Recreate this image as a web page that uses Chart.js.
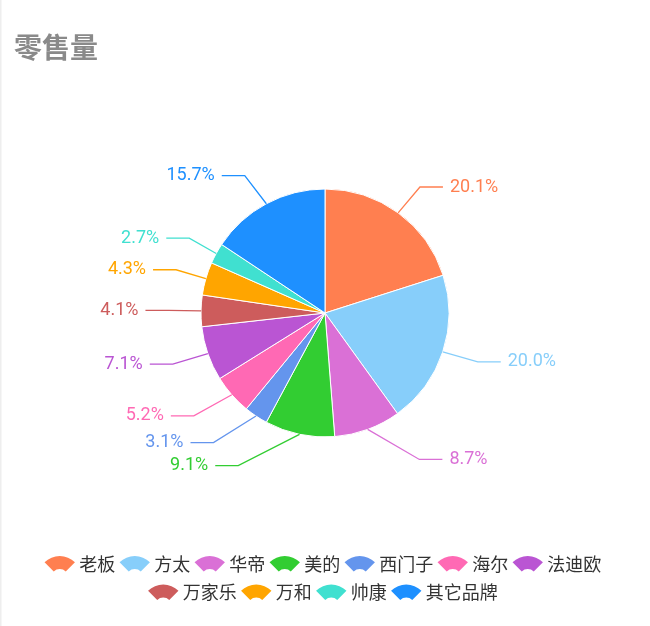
<!DOCTYPE html>
<html><head><meta charset="utf-8">
<script src="https://cdn.jsdelivr.net/npm/chart.js@4.4.1/dist/chart.umd.min.js"></script>
<style>html,body{margin:0;padding:0;background:#fff;} #wrap{width:650px;height:626px;position:relative;}</style>
</head><body><div id="wrap"><canvas id="c"></canvas></div>
<script>
const titleText = '零售量';
const categories = ['老板','方太','华帝','美的','西门子','海尔','法迪欧','万家乐','万和','帅康','其它品牌'];
const shares = [20.1, 20.0, 8.7, 9.1, 3.1, 5.2, 7.1, 4.1, 4.3, 2.7, 15.7];
const colors = ['#ff7f50','#87cefa','#da70d6','#32cd32','#6495ed','#ff69b4','#ba55d3','#cd5c5c','#ffa500','#40e0d0','#1e90ff'];
const legendRows = [7, 4];

const CJK = '"Noto Sans CJK SC", "Noto Sans", sans-serif';

const decorPlugin = {
  id: 'decor',
  afterDatasetsDraw(chart) {
    const ctx = chart.ctx;
    const meta = chart.getDatasetMeta(0);
    const L1 = 32, L2 = 23, RL = 180, K = 10, GAP = 7;
    ctx.save();
    ctx.font = '18px Roboto';
    ctx.textBaseline = 'middle';
    meta.data.forEach((arc, i) => {
      const p = arc.getProps(['x','y','startAngle','endAngle','outerRadius'], true);
      const mid = (p.startAngle + p.endAngle) / 2;
      const ux = Math.cos(mid), uy = Math.sin(mid);
      const dir = ux >= 0 ? 1 : -1;
      const x1 = p.x + p.outerRadius * ux, y1 = p.y + p.outerRadius * uy;
      const y2 = p.y + (p.outerRadius + L1) * uy;
      const dyc = y2 - p.y - K;
      const x3 = p.x + dir * Math.sqrt(Math.max(RL * RL - dyc * dyc, 0));
      const x2 = x3 - dir * L2;
      ctx.strokeStyle = colors[i];
      ctx.lineWidth = 1.3;
      ctx.beginPath();
      ctx.moveTo(x1, y1); ctx.lineTo(x2, y2); ctx.lineTo(x3, y2);
      ctx.stroke();
      ctx.fillStyle = colors[i];
      ctx.textAlign = dir > 0 ? 'left' : 'right';
      ctx.fillText(shares[i].toFixed(1) + '%', x3 + dir * GAP, y2);
    });
    ctx.restore();
  },
  afterDraw(chart) {
    const ctx = chart.ctx;
    ctx.save();
    // faint left edge
    ctx.fillStyle = '#eeeeee';
    ctx.fillRect(0, 0, 1.5, chart.height);
    // title
    ctx.font = 'bold 28px ' + CJK;
    ctx.fillStyle = '#8a8a8a';
    ctx.textBaseline = 'middle';
    ctx.textAlign = 'left';
    ctx.fillText(titleText, 14, 47);
    // legend
    const ICON_W = 30, ICON_TXT = 4.5, ITEM_GAP = 4.5;
    const rowY = [564, 592.5];
    const centerX = 323;
    ctx.font = '18px ' + CJK;
    let idx = 0;
    legendRows.forEach((n, r) => {
      const items = [];
      for (let k = 0; k < n; k++, idx++) {
        const w = ICON_W + ICON_TXT + ctx.measureText(categories[idx]).width;
        items.push({i: idx, w});
      }
      const total = items.reduce((s, it) => s + it.w, 0) + ITEM_GAP * (n - 1);
      let x = centerX - total / 2;
      const cyT = rowY[r];
      items.forEach(it => {
        const icx = x + ICON_W / 2;
        const top = cyT - 8;
        const R = 21.5, r0 = 8.5, a = Math.PI / 4;
        const acy = top + R;
        ctx.fillStyle = colors[it.i];
        ctx.beginPath();
        ctx.arc(icx, acy, R, -Math.PI / 2 - a, -Math.PI / 2 + a);
        ctx.arc(icx, acy, r0, -Math.PI / 2 + a, -Math.PI / 2 - a, true);
        ctx.closePath();
        ctx.fill();
        ctx.fillStyle = '#333333';
        ctx.textAlign = 'left';
        ctx.textBaseline = 'middle';
        ctx.fillText(categories[it.i], x + ICON_W + ICON_TXT, cyT);
        x += it.w + ITEM_GAP;
      });
    });
    ctx.restore();
  }
};

new Chart(document.getElementById('c'), {
  type: 'pie',
  data: {
    labels: categories,
    datasets: [{
      data: shares,
      backgroundColor: colors,
      borderColor: '#ffffff',
      borderWidth: 1
    }]
  },
  options: {
    responsive: true,
    maintainAspectRatio: false,
    animation: false,
    events: [],
    radius: 124,
    layout: { padding: { top: 60, bottom: 60, left: 60, right: 60 } },
    plugins: {
      legend: { display: false },
      tooltip: { enabled: false },
      title: { display: false }
    }
  },
  plugins: [decorPlugin]
});
</script>
</body></html>
